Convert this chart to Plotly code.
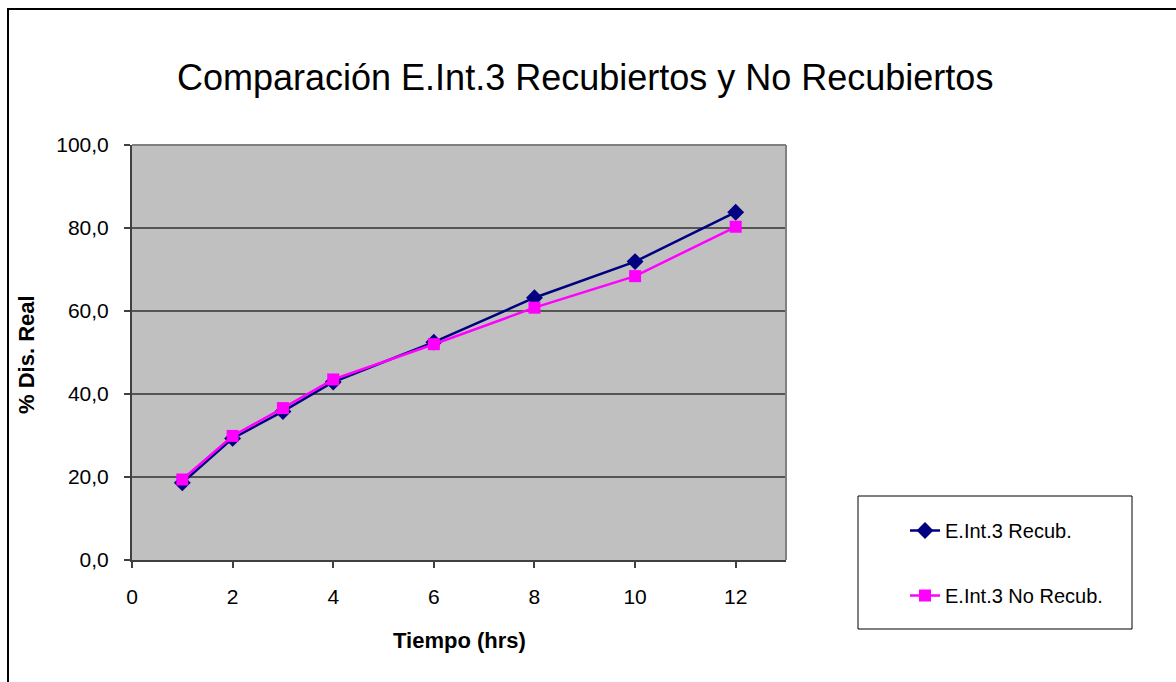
import plotly.graph_objects as go

# ---- data ----
tiempo = [1, 2, 3, 4, 6, 8, 10, 12]
recub = [18.6, 29.3, 35.8, 42.9, 52.5, 63.2, 71.9, 83.8]
no_recub = [19.4, 29.9, 36.6, 43.5, 52.0, 60.8, 68.4, 80.3]
series_names = ["E.Int.3 Recub.", "E.Int.3 No Recub."]
y_ticks = [0, 20, 40, 60, 80, 100]
y_tick_labels = ["0,0", "20,0", "40,0", "60,0", "80,0", "100,0"]
x_ticks = [0, 2, 4, 6, 8, 10, 12]
title_text = "Comparación E.Int.3 Recubiertos y No Recubiertos"
x_title = "Tiempo (hrs)"
y_title = "% Dis. Real"

W, H = 1176, 682
L, R, T, B = 132, 786, 145, 560  # plot area in pixels


def xp(px):
    return (px - L) / (R - L)


def yp(py):
    return (B - py) / (B - T)


FONT = "Liberation Sans, Arial, sans-serif"

fig = go.Figure()
fig.add_trace(go.Scatter(
    x=tiempo, y=recub, name=series_names[0], mode="lines+markers",
    line=dict(color="#000080", width=2.5),
    marker=dict(symbol="diamond", size=13, color="#000080"),
    legendgroup="a",
))
fig.add_trace(go.Scatter(
    x=tiempo, y=no_recub, name=series_names[1], mode="lines+markers",
    line=dict(color="#FF00FF", width=2.5),
    marker=dict(symbol="square", size=12, color="#FF00FF"),
    legendgroup="b",
))

fig.update_layout(
    width=W, height=H,
    margin=dict(l=L, r=W - R, t=T, b=H - B, pad=0),
    paper_bgcolor="white",
    plot_bgcolor="#C0C0C0",
    font=dict(family=FONT, color="black", size=20),
    showlegend=True,
    legend=dict(
        x=xp(905), xanchor="left", y=yp(511), yanchor="top",
        bgcolor="rgba(0,0,0,0)", borderwidth=0,
        font=dict(size=20, family=FONT),
        traceorder="grouped", tracegroupgap=36,
    ),
    xaxis=dict(
        range=[0, 13], tickvals=x_ticks, ticktext=[str(v) for v in x_ticks],
        showgrid=False, zeroline=False,
        showline=True, linecolor="#404040", linewidth=2,
        ticks="outside", ticklen=6, tickcolor="#404040", tickwidth=1.5,
        tickfont=dict(size=21, family=FONT),
        ticklabelstandoff=11,
    ),
    yaxis=dict(
        range=[0, 100], tickvals=y_ticks, ticktext=y_tick_labels,
        showgrid=True, gridcolor="#555555", gridwidth=1.5,
        zeroline=False,
        showline=True, linecolor="#404040", linewidth=2,
        ticks="outside", ticklen=6, tickcolor="#404040", tickwidth=1.5,
        tickfont=dict(size=21, family=FONT),
        ticklabelstandoff=11,
    ),
    shapes=[
        # outer chart frame
        dict(type="rect", xref="paper", yref="paper",
             x0=xp(8), x1=xp(1200), y0=yp(700), y1=yp(9),
             line=dict(color="black", width=2), layer="above"),
        # plot area top/right border
        dict(type="line", xref="paper", yref="paper",
             x0=0, x1=1, y0=1, y1=1, line=dict(color="#808080", width=2)),
        dict(type="line", xref="paper", yref="paper",
             x0=1, x1=1, y0=0, y1=1, line=dict(color="#808080", width=2)),
        # legend box
        dict(type="rect", xref="paper", yref="paper",
             x0=xp(858), x1=xp(1132), y0=yp(629), y1=yp(496),
             line=dict(color="black", width=1)),
    ],
    annotations=[
        dict(text=title_text, xref="paper", yref="paper",
             x=xp(585), y=yp(77), xanchor="center", yanchor="middle",
             showarrow=False, font=dict(size=36, family=FONT)),
        dict(text="<b>" + x_title + "</b>", xref="paper", yref="paper",
             x=xp(460), y=yp(640), xanchor="center", yanchor="middle",
             showarrow=False, font=dict(size=22, family=FONT)),
        dict(text="<b>" + y_title + "</b>", xref="paper", yref="paper",
             x=xp(26), y=yp(355), xanchor="center", yanchor="middle",
             showarrow=False, textangle=-90, font=dict(size=22, family=FONT)),
    ],
)

fig.write_html("out.html")
